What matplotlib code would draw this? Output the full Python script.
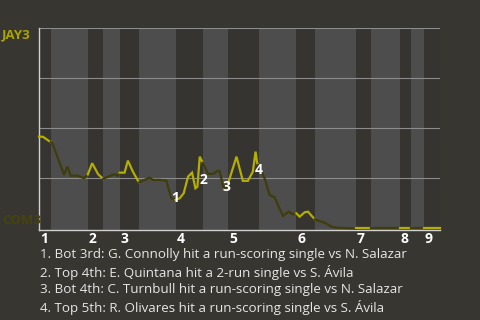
import numpy as np
import matplotlib
matplotlib.use('Agg')
import matplotlib.pyplot as plt

plt.rcParams['font.family'] = ['Open Sans', 'DejaVu Sans']

# Half-inning boundaries (play index), top 1st ... top 9th
half_starts = [0, 3.5, 14.6, 19.2, 24.1, 29.9, 40.9, 49.0, 56.6, 65.7,
               77.0, 82.5, 94.8, 99.3, 108.0, 111.3, 115.2, 120.0]
inning_labels = ['1', '2', '3', '4', '5', '6', '7', '8', '9']

# JAY3 win probability by play
play_x = [0, 1.2, 3.5, 4.0, 7.5, 8.5, 9.5, 11.5, 13.5, 14.6, 15.9, 17.7,
          19.2, 21.2, 22.7, 23.6, 24.1, 25.6, 26.6, 28.1, 29.9, 31.6, 33.1,
          34.1, 36.1, 38.1, 39.6, 40.9, 42.1, 43.3, 44.6, 45.8, 46.8, 47.4,
          48.1, 49.0, 50.6, 52.1, 53.6, 54.1, 55.1, 55.8, 56.6, 59.1, 61.0,
          62.5, 64.0, 64.8, 65.3, 65.7, 67.5, 69.0, 70.5, 73.0, 74.7, 76.0,
          77.0, 78.0, 79.5, 80.5, 82.5, 84.5, 85.5, 87.5, 89.0, 93.5, 94.8,
          99.3, 108.0, 111.3, 115.2, 120.0]
wp = [0.459, 0.458, 0.431, 0.426, 0.268, 0.309, 0.264, 0.264, 0.251, 0.27,
      0.326, 0.271, 0.248, 0.263, 0.271, 0.263, 0.279, 0.279, 0.339, 0.284,
      0.230, 0.243, 0.254, 0.243, 0.243, 0.239, 0.151, 0.143, 0.151, 0.176,
      0.259, 0.279, 0.201, 0.209, 0.359, 0.328, 0.273, 0.273, 0.289, 0.284,
      0.209, 0.201, 0.226, 0.359, 0.238, 0.238, 0.284, 0.384, 0.326, 0.318,
      0.251, 0.168, 0.156, 0.063, 0.084, 0.071, 0.076, 0.059, 0.081, 0.084,
      0.046, 0.034, 0.029, 0.009, 0.004, 0.001, 0.0, 0.0, 0.0, 0.0, 0.0, 0.0]

# Key events: label positions
event_x = [40.7, 49.1, 56.1, 65.8]
event_y = [0.153, 0.243, 0.209, 0.293]
event_text = [
    "1. Bot 3rd: G. Connolly hit a run-scoring single vs N. Salazar",
    "2. Top 4th: E. Quintana hit a 2-run single vs S. Ávila",
    "3. Bot 4th: C. Turnbull hit a run-scoring single vs N. Salazar",
    "4. Top 5th: R. Olivares hit a run-scoring single vs S. Ávila",
]

bg = '#383631'
dark_band = '#363430'
light_band = '#4d4d4d'
yellow = '#b4ae00'
olive = '#3f3d0b'

fig = plt.figure(figsize=(4.8, 3.2), dpi=100, facecolor=bg)
ax = fig.add_axes([39 / 480, 90 / 320, 401 / 480, (320 - 28.3) / 320 - 90 / 320])
ax.set_facecolor(bg)

px = np.array(play_x)
py = np.array(wp)

# Bands and line segments per half-inning
for i in range(len(half_starts) - 1):
    a, b = half_starts[i], half_starts[i + 1]
    top = i % 2 == 0
    ax.axvspan(a, b, color=dark_band if top else light_band, lw=0, zorder=0)
    m = (px >= a) & (px <= b)
    ax.plot(px[m], py[m], color=yellow if top else olive, lw=1.6,
            solid_joinstyle='miter', zorder=3, clip_on=False)

for g in [0.25, 0.5, 0.75, 1.0]:
    ax.axhline(g, color='#8c8c8c', lw=0.8, zorder=1)

ax.set_xlim(0, 120)
ax.set_ylim(-0.0075, 1.0)
for s in ['top', 'right']:
    ax.spines[s].set_visible(False)
for s in ['left', 'bottom']:
    ax.spines[s].set_color('#d0d0d0')
    ax.spines[s].set_linewidth(1.0)
ax.set_xticks([])
ax.set_yticks([])

# Inning labels at the start of each top half
for k, lab in enumerate(inning_labels):
    ax.text(half_starts[2 * k] + 0.3, -0.015, lab, color='white', fontsize=10,
            fontweight='bold', ha='left', va='top')

for x, y, n in zip(event_x, event_y, range(1, 5)):
    ax.text(x, y, str(n), color='white', fontsize=10, fontweight='bold',
            ha='center', va='center', zorder=5)

fig.text(2 / 480, 1 - 35 / 320, 'JAY3', color='#aaa400', fontsize=9.5,
         fontweight='bold', ha='left', va='center')
fig.text(2 / 480, 1 - 221 / 320, 'COM3', color='#45430f', fontsize=9.5,
         fontweight='bold', ha='left', va='center')

for j, t in enumerate(event_text):
    fig.text(40 / 480, 1 - (254.5 + j * 17.6) / 320, t, color='#e6e6e6',
             fontsize=9.6, ha='left', va='center')

fig.savefig('out.png', dpi=100, facecolor=bg)
